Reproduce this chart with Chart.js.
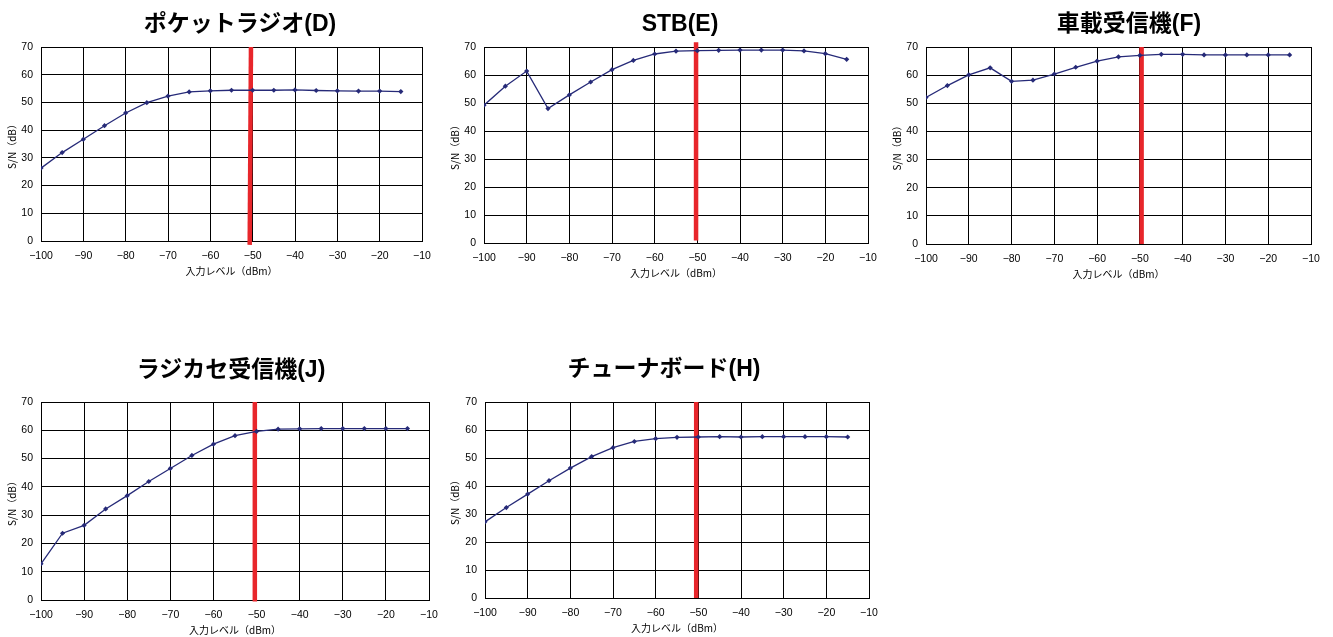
<!DOCTYPE html>
<html>
<head>
<meta charset="utf-8">
<script src="https://cdn.jsdelivr.net/npm/chart.js@4.4.1/dist/chart.umd.min.js"></script>
<style>
  body{margin:0;background:#fff;width:1333px;height:637px;position:relative;overflow:hidden}
  .box{position:absolute}
  .ttl{position:absolute;font:bold 23px 'Liberation Sans','Noto Sans CJK JP',sans-serif;line-height:28px;
       white-space:nowrap;transform:translateX(-50%);color:#000}
</style>
</head>
<body>
<script>
// input level (dBm) for every measurement point
const levels = [-100,-95,-90,-85,-80,-75,-70,-65,-60,-55,-50,-45,-40,-35,-30,-25,-20,-15];

// S/N (dB) per receiver
const snD = [26.3,31.9,36.7,41.6,46.2,49.9,52.3,53.8,54.2,54.4,54.4,54.4,54.5,54.3,54.2,54.1,54.1,53.9];
const snE = [49.2,56.0,61.4,48.0,52.9,57.5,61.9,65.2,67.5,68.5,68.7,68.8,68.9,68.9,68.9,68.6,67.6,65.6];
const snF = [52.1,56.3,60.1,62.6,57.8,58.2,60.4,62.8,65.0,66.5,67.0,67.4,67.4,67.2,67.2,67.2,67.2,67.2];
const snJ = [12.8,23.6,26.4,32.2,36.9,41.9,46.5,51.1,55.1,58.1,59.6,60.4,60.5,60.6,60.6,60.6,60.6,60.6];
const snH = [27.2,32.3,37.1,41.9,46.4,50.5,53.7,55.9,56.9,57.4,57.5,57.6,57.5,57.6,57.6,57.6,57.6,57.5];

// red reference marker near -50 dBm (x at top/bottom, y at top/bottom)
const refD = {x:[-50.4,-50.7], y:[70,-1.4]};
const refE = {x:[-50.3,-50.3], y:[71.7,0.9]};
const refF = {x:[-49.6,-49.6], y:[70,0]};
const refJ = {x:[-50.4,-50.4], y:[70,-0.5]};
const refH = {x:[-50.5,-50.5], y:[70,0]};

const titles = {D:'ポケットラジオ(D)', E:'STB(E)', F:'車載受信機(F)', J:'ラジカセ受信機(J)', H:'チューナボード(H)'};
const xTitle = '入力レベル（dBm）';
const yTitle = 'S/N（dB）';

const series = {D:snD, E:snE, F:snF, J:snJ, H:snH};
const refs = {D:refD, E:refE, F:refF, J:refJ, H:refH};

// page layout of each panel
const panels = [
  {key:'D', left:0,   top:0,   w:445, h:290, plot:[41,47,422,241],   tx:240,  ty:23,  ytx:12},
  {key:'E', left:440, top:0,   w:445, h:290, plot:[484,47,868,243],  tx:680,  ty:23,  ytx:15},
  {key:'F', left:885, top:0,   w:448, h:290, plot:[926,47,1311,244], tx:1129, ty:23,  ytx:12},
  {key:'J', left:0,   top:350, w:445, h:287, plot:[41,402,429,600],  tx:231,  ty:369, ytx:12},
  {key:'H', left:440, top:350, w:445, h:287, plot:[485,402,869,598], tx:664,  ty:368, ytx:15}
];

const navy = '#262a78';
const tickFont = {family:"'Liberation Sans', Arial, sans-serif", size:10.5};
const labFont = {family:"'Noto Sans CJK JP', sans-serif", size:10, lineHeight:1.2};

panels.forEach(p=>{
  const div = document.createElement('div');
  div.className = 'box';
  div.style.left = p.left+'px'; div.style.top = p.top+'px';
  const cv = document.createElement('canvas');
  cv.width = p.w; cv.height = p.h;
  cv.style.width = p.w+'px'; cv.style.height = p.h+'px';
  div.appendChild(cv);
  document.body.appendChild(div);

  const t = document.createElement('div');
  t.className = 'ttl';
  t.textContent = titles[p.key];
  t.style.left = p.tx+'px'; t.style.top = (p.ty-14)+'px';
  document.body.appendChild(t);

  const yW = p.plot[0]-p.left;
  const xH = p.top+p.h-p.plot[3];
  const padTop = p.plot[1]-p.top;
  const padRight = p.left+p.w-p.plot[2];
  const sn = series[p.key], ref = refs[p.key];

  new Chart(cv.getContext('2d'),{
    type:'scatter',
    data:{datasets:[
      {data:levels.map((x,i)=>({x, y:sn[i]})), showLine:true, borderColor:navy, borderWidth:1.3,
       pointStyle:'rectRot', pointRadius:2.6, pointBackgroundColor:navy, pointBorderWidth:0, tension:0},
      {data:ref.x.map((x,i)=>({x, y:ref.y[i]})), showLine:true, borderColor:'#e8262b', borderWidth:4.5,
       pointRadius:0, clip:false}
    ]},
    options:{
      responsive:false, animation:false, devicePixelRatio:1,
      layout:{padding:{top:padTop, right:padRight, left:0, bottom:0}},
      plugins:{legend:{display:false}, tooltip:{enabled:false}},
      scales:{
        x:{type:'linear', min:-100, max:-10,
           ticks:{stepSize:10, padding:9, color:'#000', font:tickFont, maxRotation:0, autoSkip:false,
                  callback:v=>String(v).replace('-','−')},
           grid:{color:'#000', lineWidth:1, drawTicks:false},
           border:{color:'#000', width:1},
           title:{display:true, text:xTitle, color:'#000', font:labFont, padding:{top:0, bottom:Math.max(0, xH-30.5-6)}},
           afterFit(s){ s.height = xH; s.paddingLeft = 0; s.paddingRight = 0; }},
        y:{min:0, max:70,
           ticks:{stepSize:10, padding:8, color:'#000', font:tickFont},
           grid:{color:'#000', lineWidth:1, drawTicks:false},
           border:{color:'#000', width:1},
           title:{display:true, text:yTitle, color:'#000', font:labFont, padding:{top:p.ytx-6, bottom:0}},
           afterFit(s){ s.width = yW; s.paddingTop = 0; s.paddingBottom = 0; }}
      }
    }
  });
});
</script>
</body>
</html>
